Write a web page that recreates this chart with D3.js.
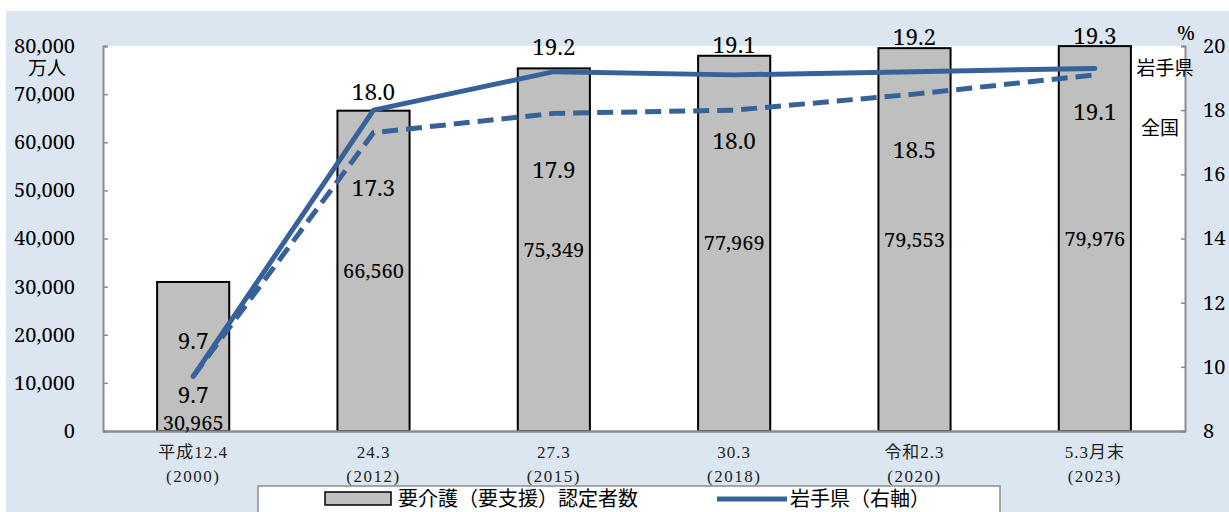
<!DOCTYPE html>
<html><head><meta charset="utf-8">
<script src="https://cdn.jsdelivr.net/npm/d3@7"></script>
<style>
html,body{margin:0;padding:0;background:#fff;}
svg{display:block;}
</style></head>
<body>
<svg id="c" width="1229" height="512"></svg>
<script>
const categories = ["平成12.4", "24.3", "27.3", "30.3", "令和2.3", "5.3月末"];
const years = ["(2000)", "(2012)", "(2015)", "(2018)", "(2020)", "(2023)"];
const certified = [30965, 66560, 75349, 77969, 79553, 79976];
const iwate = [9.7, 18.0, 19.2, 19.1, 19.2, 19.3];
const national = [9.7, 17.3, 17.9, 18.0, 18.5, 19.1];
const leftTicks = [0, 10000, 20000, 30000, 40000, 50000, 60000, 70000, 80000];
const rightTicks = [8, 10, 12, 14, 16, 18, 20];

// label offsets (px, relative to the data point)
const iwateDy = [-35, -18, -25, -30, -35, -32];
const natDy = [19, 55, 57, 31, 56, 37];

const W = 1229, H = 512;
const L = 103, R = 1185, T = 46, B = 431;
const blue = "#366299";
const numFont = "'Noto Serif', 'Liberation Serif', serif";
const cjkFont = "'Liberation Serif', 'Noto Sans CJK JP', serif";

const svg = d3.select("#c");
svg.append("rect").attr("width", W).attr("height", H).attr("fill", "#fff");
svg.append("rect").attr("x", 6).attr("y", 11).attr("width", W - 6).attr("height", H - 11).attr("fill", "#dce6f1");
svg.append("rect").attr("x", L).attr("y", T).attr("width", R - L).attr("height", B - T).attr("fill", "#fff");

const x = d3.scaleBand().domain(categories).range([L, R]).paddingInner(0.6).paddingOuter(0.3);
const yL = d3.scaleLinear().domain([0, 80000]).range([B, T]);
const yR = d3.scaleLinear().domain([8, 20]).range([B, T]);
const cx = d => x(d) + x.bandwidth() / 2;

// bars
svg.append("g").selectAll("rect").data(certified).join("rect")
  .attr("x", (d, i) => x(categories[i]))
  .attr("y", d => yL(d))
  .attr("width", x.bandwidth())
  .attr("height", d => B - yL(d))
  .attr("fill", "#bfbfbf").attr("stroke", "#000").attr("stroke-width", 2);

// axes
const fmt = d3.format(",");
const gl = svg.append("g").attr("transform", `translate(${L},0)`)
  .call(d3.axisLeft(yL).tickValues(leftTicks).tickFormat(d => fmt(d)).tickSize(-5).tickPadding(28));
const gr = svg.append("g").attr("transform", `translate(${R},0)`)
  .call(d3.axisRight(yR).tickValues(rightTicks).tickSize(-4).tickPadding(18));
[gl, gr].forEach(g => {
  g.select(".domain").attr("stroke", "#8c8c8c").attr("stroke-width", 2);
  g.selectAll(".tick line").attr("stroke", "#8c8c8c").attr("stroke-width", 1.5);
  g.selectAll(".tick text").attr("fill", "#000").style("font-family", numFont).style("font-size", "20px");
});
// bottom axis
const gb = svg.append("g").attr("transform", `translate(0,${B})`)
  .call(d3.axisBottom(x).tickSize(0).tickPadding(15));
gb.select(".domain").attr("stroke", "#8c8c8c").attr("stroke-width", 2.5);
gb.selectAll(".tick text").attr("fill", "#222").style("font-family", cjkFont).style("font-size", "17px")
  .style("letter-spacing", "1px");
gb.selectAll(".tick").append("text")
  .attr("y", 39).attr("fill", "#222").attr("dy", "0.71em")
  .style("font-family", cjkFont).style("font-size", "17px").style("letter-spacing", "1.5px")
  .text((d, i) => years[i]);

svg.append("text").attr("x", 47).attr("y", 68).attr("dy", "0.35em").attr("text-anchor", "middle")
  .style("font-family", cjkFont).style("font-size", "19px").text("万人");
svg.append("text").attr("x", 1186).attr("y", 33).attr("dy", "0.35em").attr("text-anchor", "middle")
  .style("font-family", numFont).style("font-size", "20px").text("%");

// lines
const line = d3.line().x((d, i) => cx(categories[i])).y(d => yR(d));
svg.append("path").datum(national).attr("d", line).attr("fill", "none")
  .attr("stroke", blue).attr("stroke-width", 5).attr("stroke-dasharray", "16,8");
svg.append("path").datum(iwate).attr("d", line).attr("fill", "none")
  .attr("stroke", blue).attr("stroke-width", 5).attr("stroke-linejoin", "round").attr("stroke-linecap", "round");

// bar labels
svg.append("g").selectAll("text").data(certified).join("text")
  .attr("x", (d, i) => cx(categories[i]))
  .attr("y", (d, i) => i === 0 ? B - 8 : (yL(d) + B) / 2)
  .attr("dy", "0.35em").attr("text-anchor", "middle")
  .style("font-family", numFont).style("font-size", "20px")
  .text(d => fmt(d));

// line labels
const f1 = d3.format(".1f");
svg.append("g").selectAll("text").data(iwate).join("text")
  .attr("x", (d, i) => cx(categories[i])).attr("y", (d, i) => yR(d) + iwateDy[i])
  .attr("dy", "0.35em").attr("text-anchor", "middle")
  .style("font-family", numFont).style("font-size", "22.5px").text(d => f1(d));
svg.append("g").selectAll("text").data(national).join("text")
  .attr("x", (d, i) => cx(categories[i])).attr("y", (d, i) => yR(d) + natDy[i])
  .attr("dy", "0.35em").attr("text-anchor", "middle")
  .style("font-family", numFont).style("font-size", "22.5px").text(d => f1(d));

// series names
svg.append("text").attr("x", 1165).attr("y", yR(iwate[5])).attr("dy", "0.35em").attr("text-anchor", "middle")
  .style("font-family", cjkFont).style("font-size", "19px").text("岩手県");
svg.append("text").attr("x", 1160).attr("y", 128).attr("dy", "0.35em").attr("text-anchor", "middle")
  .style("font-family", cjkFont).style("font-size", "19px").text("全国");

// legend
const lg = svg.append("g");
lg.append("rect").attr("x", 258).attr("y", 486).attr("width", 742).attr("height", 40)
  .attr("fill", "#fff").attr("stroke", "#8c8c8c").attr("stroke-width", 1.5);
lg.append("rect").attr("x", 325).attr("y", 492).attr("width", 66).attr("height", 13)
  .attr("fill", "#bfbfbf").attr("stroke", "#000").attr("stroke-width", 1.5);
lg.append("text").attr("x", 398).attr("y", 499).attr("dy", "0.35em")
  .style("font-family", cjkFont).style("font-size", "20px").text("要介護（要支援）認定者数");
lg.append("line").attr("x1", 717).attr("x2", 787).attr("y1", 499).attr("y2", 499)
  .attr("stroke", blue).attr("stroke-width", 5);
lg.append("text").attr("x", 790).attr("y", 499).attr("dy", "0.35em")
  .style("font-family", cjkFont).style("font-size", "20px").text("岩手県（右軸）");
</script>
</body></html>
